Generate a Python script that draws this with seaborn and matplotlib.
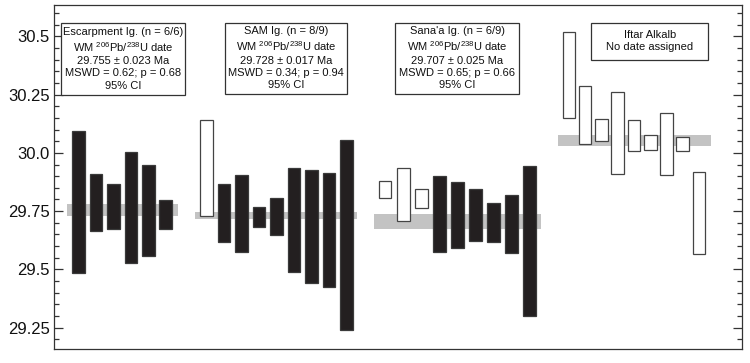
import numpy as np
import matplotlib
matplotlib.use("Agg")
import matplotlib.pyplot as plt
import seaborn as sns
from matplotlib.patches import Rectangle
from matplotlib.ticker import MultipleLocator

sns.set_theme(style="ticks")
plt.rcParams['font.family'] = ['Liberation Sans', 'DejaVu Sans']
plt.rcParams['mathtext.fontset'] = 'custom'
plt.rcParams['mathtext.rm'] = 'Liberation Sans'

# 2-sigma date ranges (Ma) for each analysis, upper and lower ends
esc_hi = [30.093, 29.909, 29.867, 30.002, 29.950, 29.797]
esc_lo = [29.486, 29.664, 29.674, 29.526, 29.559, 29.674]
esc_used = [True, True, True, True, True, True]

sam_hi = [30.143, 29.866, 29.904, 29.767, 29.806, 29.936, 29.927, 29.912, 30.054]
sam_lo = [29.729, 29.617, 29.576, 29.683, 29.646, 29.489, 29.443, 29.426, 29.240]
sam_used = [False, True, True, True, True, True, True, True, True]

sana_hi = [29.880, 29.937, 29.843, 29.899, 29.876, 29.844, 29.783, 29.820, 29.944]
sana_lo = [29.805, 29.706, 29.762, 29.576, 29.594, 29.623, 29.619, 29.571, 29.301]
sana_used = [False, False, False, True, True, True, True, True, True]

iftar_hi = [30.519, 30.285, 30.147, 30.263, 30.139, 30.077, 30.173, 30.070, 29.917]
iftar_lo = [30.150, 30.036, 30.049, 29.910, 30.006, 30.014, 29.907, 30.006, 29.567]
iftar_used = [False] * 9

# weighted mean bands (lower, upper)
esc_band = (29.730, 29.779)
sam_band = (29.715, 29.745)
sana_band = (29.673, 29.737)
iftar_band = (30.030, 30.077)

esc_label = ["Escarpment Ig. (n = 6/6)", r"WM $\mathregular{^{206}}$Pb/$\mathregular{^{238}}$U date",
             "29.755 ± 0.023 Ma", "MSWD = 0.62; p = 0.68", "95% CI"]
sam_label = ["SAM Ig. (n = 8/9)", r"WM $\mathregular{^{206}}$Pb/$\mathregular{^{238}}$U date",
             "29.728 ± 0.017 Ma", "MSWD = 0.34; p = 0.94", "95% CI"]
sana_label = ["Sana'a Ig. (n = 6/9)", r"WM $\mathregular{^{206}}$Pb/$\mathregular{^{238}}$U date",
              "29.707 ± 0.025 Ma", "MSWD = 0.65; p = 0.66", "95% CI"]
iftar_label = ["Iftar Alkalb", "No date assigned"]

yticks = [29.25, 29.5, 29.75, 30.0, 30.25, 30.5]
ytick_labels = ["29.25", "29.5", "29.75", "30.0", "30.25", "30.5"]

# layout: (first bar x, step, band x-range), label box (x0, y0, w, h) in axes fraction
groups = [
    (esc_hi, esc_lo, esc_used, esc_band, 1.39, 1.0, (0.73, 7.07), esc_label, (0.0102, 0.738, 0.180, 0.209)),
    (sam_hi, sam_lo, sam_used, sam_band, 8.71, 1.0, (8.06, 17.31), sam_label, (0.2485, 0.741, 0.178, 0.206)),
    (sana_hi, sana_lo, sana_used, sana_band, 18.93, 1.03, (18.29, 27.81), sana_label, (0.4964, 0.741, 0.180, 0.206)),
    (iftar_hi, iftar_lo, iftar_used, iftar_band, 29.43, 0.93, (28.82, 37.58), iftar_label, (0.7815, 0.842, 0.1695, 0.106)),
]

fig = plt.figure(figsize=(7.5, 3.63), dpi=100)
ax = fig.add_axes([0.072, 0.0386, 0.917, 0.947])

for hi, lo, used, band, x0, step, bx, label, box in groups:
    hi = np.array(hi)
    lo = np.array(lo)
    xs = x0 + step * np.arange(len(hi))
    ax.fill_between(bx, band[0], band[1], color="#c3c3c3", lw=0, zorder=1)
    face = ["#231f20" if u else "white" for u in used]
    edge = ["#3a3a3a" if u else "#444444" for u in used]
    ax.bar(xs, hi - lo, bottom=lo, width=0.72, color=face, edgecolor=edge,
           linewidth=0.9, zorder=2)
    ax.add_patch(Rectangle(box[:2], box[2], box[3], transform=ax.transAxes,
                           facecolor="white", edgecolor="#333333", lw=0.9, zorder=3))
    ax.text(box[0] + box[2] / 2, box[1] + box[3] / 2 + 0.002, "\n".join(label),
            transform=ax.transAxes, ha="center", va="center", fontsize=8,
            linespacing=1.28, color="#111111", zorder=4)

ax.set_xlim(0, 39.31)
ax.set_ylim(29.159, 30.633)
ax.set_xticks([])
ax.set_yticks(yticks)
ax.set_yticklabels(ytick_labels)
ax.yaxis.set_minor_locator(MultipleLocator(0.05))
ax.tick_params(axis="y", which="both", direction="in", left=True, right=True,
               colors="#333333", labelcolor="#111111", labelsize=12, pad=3)
ax.tick_params(axis="y", which="major", length=6.5, width=0.9)
ax.tick_params(axis="y", which="minor", length=3.6, width=0.9)
for s in ax.spines.values():
    s.set_color("#333333")
    s.set_linewidth(0.9)
    s.set_visible(True)

fig.savefig("out.png", dpi=100)
